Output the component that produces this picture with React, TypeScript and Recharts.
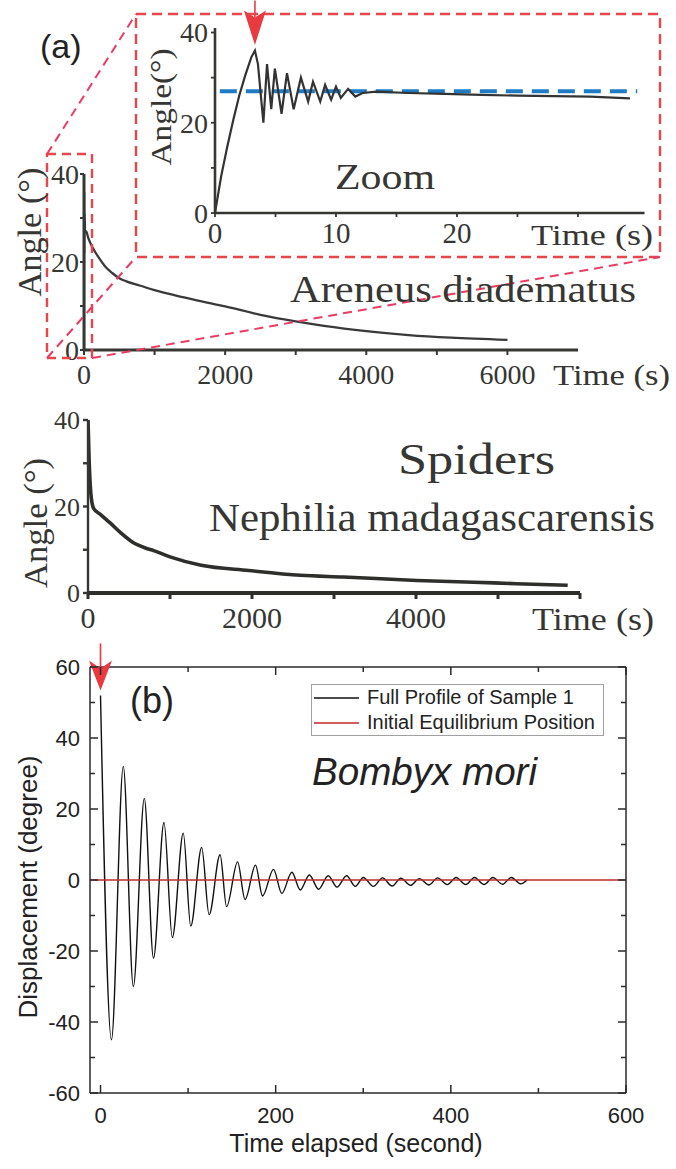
import React from 'react';
import { LineChart, Line, XAxis, YAxis, ReferenceLine, ReferenceDot, Legend } from 'recharts';

const PAGE_W = 676;
const PAGE_H = 1169;

// ---------- (a) Areneus diadematus: full relaxation ----------
const areneusTime = [0, 3, 5, 8, 15, 30, 60, 100, 150, 200, 300, 400, 500, 600, 800, 1000, 1400, 1800, 2000, 2500, 3000, 3400, 4000, 4600, 5200, 6000];
const areneusAngle = [0, 36, 22, 31, 27, 27, 25.5, 24, 22.5, 21.2, 19, 17.5, 16.3, 15.6, 14.6, 13.6, 12, 10.6, 9.9, 8, 6.5, 5.5, 4.3, 3.4, 2.8, 2.3];
const areneusXTicks = [0, 1000, 2000, 3000, 4000, 5000, 6000];
const areneusXLabels = [0, 2000, 4000, 6000];
const angleTicks = [0, 10, 20, 30, 40];
const angleLabels = [0, 20, 40];

// ---------- (a) zoom on the first seconds ----------
const zoomTime = [0, 0.5, 1, 1.5, 2, 2.5, 3, 3.3, 3.55, 4.0, 4.3, 4.65, 4.95, 5.5, 5.95, 6.5, 7.1, 7.7, 8.1, 8.7, 9.1, 9.6, 10.0, 10.4, 11.0, 11.6, 12.2, 13.3, 16, 19, 22, 25, 28, 31, 34.3];
const zoomAngle = [0, 8, 14.5, 20.5, 26, 30.5, 34.5, 36, 33, 20, 33, 23, 32, 22, 31, 23, 30, 24.7, 29.1, 24.7, 28.4, 25.1, 28, 25.5, 27.5, 25.8, 26.6, 26.9, 26.6, 26.4, 26.2, 26, 25.9, 25.8, 25.4];
const zoomXTicks = [0, 5, 10, 15, 20, 25, 30];
const zoomXLabels = [0, 10, 20];
const zoomEquilibrium = 27;
const zoomEquilibriumSpan = [0.4, 34.9];
const zoomPeak = { t: 3.3, angle: 36 };

// ---------- (a) Nephilia madagascarensis ----------
const nephiliaTime = [0, 15, 40, 70, 150, 270, 400, 540, 700, 800, 1010, 1380, 1960, 2590, 3115, 4010, 4700, 5220, 5850];
const nephiliaAngle = [40, 30, 22, 19.5, 18.2, 16.2, 13.9, 11.8, 10.4, 9.8, 8.3, 6.4, 5.2, 4.1, 3.7, 2.9, 2.5, 2.15, 1.8];
const nephiliaXTicks = [0, 1000, 2000, 3000, 4000, 5000, 6000];
const nephiliaXLabels = [0, 2000, 4000];

// ---------- (b) Bombyx mori ----------
const bombyxTime = [0, 12.5, 26, 37.5, 50, 60.5, 72.5, 82, 94.5, 103, 115.5, 124, 136.5, 144, 156.5, 165, 177, 185, 197.5, 207, 218.5, 228, 238.5, 249, 260, 270, 281, 291, 300, 311.5, 322, 333, 343, 354, 364, 375, 385, 396, 406, 417, 427, 438, 448, 459, 469, 480, 487];
const bombyxDisp = [52, -45, 32, -30, 23, -22, 16.2, -16.2, 13.2, -13, 9.2, -9.8, 7.1, -7.5, 5.1, -5.5, 4.2, -4.5, 3, -3.8, 2.2, -2.8, 1.4, -2.6, 1.2, -2, 1.2, -1.8, 0.7, -1.8, 0.6, -1.7, 0.5, -1.5, 0.4, -1.4, 0.6, -1.3, 0.7, -1.3, 0.7, -1.3, 0.7, -1.2, 0.7, -1.1, 0];
const equilibriumTime = [-12, 600];
const equilibriumDisp = [0, 0];
const bombyxXTicks = [0, 100, 200, 300, 400, 500, 600];
const bombyxXLabels = [0, 200, 400, 600];
const bombyxYTicks = [-60, -50, -40, -30, -20, -10, 0, 10, 20, 30, 40, 50, 60];
const bombyxYLabels = [-60, -40, -20, 0, 20, 40, 60];
const bombyxStart = { t: 0, disp: 52 };

const SERIF = '"Liberation Serif", "Times New Roman", serif';
const SANS = '"Liberation Sans", Arial, sans-serif';
const INK = '#363633';
const DASH_RED = '#e8464d';
const DASH_PINK = '#e83d62';
const ARROW_RED = '#e83a40';
const EQ_RED = '#c0282d';
const FRAME = '#2a2a2a';

// plotting rectangle of panel (b); its ticks point inward on all four sides
const BOMBYX_BOX = { left: 90, top: 667, right: 626, bottom: 1093 };
const BX_DOMAIN: [number, number] = [-12, 600];
const BY_DOMAIN: [number, number] = [-60, 60];

const zip = (xs: number[], ys: number[], yKey: string) => xs.map((x, i) => ({ t: x, [yKey]: ys[i] }));

const areneusData = zip(areneusTime, areneusAngle, 'angle');
const zoomData = zip(zoomTime, zoomAngle, 'angle');
const nephiliaData = zip(nephiliaTime, nephiliaAngle, 'angle');
const bombyxData = zip(bombyxTime, bombyxDisp, 'disp');
const equilibriumData = zip(equilibriumTime, equilibriumDisp, 'disp');

// margins that put the plotting rectangle at (x0,y0)-(x1,y1) on a page-sized chart
const marginFor = (x0: number, y0: number, x1: number, y1: number, yW: number, xH: number) => ({
  top: y0,
  left: x0 - yW,
  right: PAGE_W - x1,
  bottom: PAGE_H - y1 - xH,
});

const only = (list: number[]) => (v: number) => (list.includes(v) ? String(v) : '');

const Layer = ({ children }: { children: React.ReactNode }) => (
  <div style={{ position: 'absolute', left: 0, top: 0, width: PAGE_W, height: PAGE_H }}>{children}</div>
);

const makeArrow = (lineTop: number, backY: number, notchY: number, tipGap: number, halfW: number) =>
  (props: any) => {
    const { cx, cy } = props;
    return (
      <g>
        <line x1={cx} x2={cx} y1={cy - lineTop} y2={cy - notchY} stroke={ARROW_RED} strokeWidth={1.6} />
        <path
          d={`M${cx} ${cy - tipGap} L${cx - halfW} ${cy - backY} L${cx} ${cy - notchY} L${cx + halfW} ${cy - backY} Z`}
          fill={ARROW_RED}
        />
      </g>
    );
  };

// x tick of panel (b): label below, inward marks on the bottom and top edges
const FramedXTick = (props: any) => {
  const { x, y, payload } = props;
  const major = bombyxXLabels.includes(payload.value);
  const len = major ? 8 : 5;
  return (
    <g>
      <line x1={x} x2={x} y1={BOMBYX_BOX.bottom} y2={BOMBYX_BOX.bottom - len} stroke={FRAME} strokeWidth={1.5} />
      <line x1={x} x2={x} y1={BOMBYX_BOX.top} y2={BOMBYX_BOX.top + len} stroke={FRAME} strokeWidth={1.5} />
      {major && (
        <text x={x} y={y} dy="0.71em" textAnchor="middle" fontFamily={SANS} fontSize={22} fill="#222">
          {payload.value}
        </text>
      )}
    </g>
  );
};

// y tick of panel (b): label on the left, inward marks on the left and right edges
const FramedYTick = (props: any) => {
  const { x, y, payload } = props;
  const major = bombyxYLabels.includes(payload.value);
  const len = major ? 8 : 5;
  return (
    <g>
      <line x1={BOMBYX_BOX.left} x2={BOMBYX_BOX.left + len} y1={y} y2={y} stroke={FRAME} strokeWidth={1.5} />
      <line x1={BOMBYX_BOX.right} x2={BOMBYX_BOX.right - len} y1={y} y2={y} stroke={FRAME} strokeWidth={1.5} />
      {major && (
        <text x={x} y={y} dy="0.355em" textAnchor="end" fontFamily={SANS} fontSize={22} fill="#222">
          {payload.value}
        </text>
      )}
    </g>
  );
};

type TextProps = {
  x: number; y: number; len?: number; size: number; family?: string; anchor?: 'start' | 'middle' | 'end';
  vertical?: boolean; italic?: boolean; fill?: string; children: React.ReactNode;
};
const Caption = ({ x, y, len, size, family = SERIF, anchor = 'start', vertical, italic, fill = INK, children }: TextProps) => (
  <text
    x={x}
    y={y}
    fontFamily={family}
    fontSize={size}
    fontStyle={italic ? 'italic' : 'normal'}
    textAnchor={anchor}
    dominantBaseline={vertical ? 'central' : undefined}
    textLength={len}
    lengthAdjust={len ? 'spacingAndGlyphs' : undefined}
    fill={fill}
    transform={vertical ? `rotate(-90 ${x} ${y})` : undefined}
  >
    {children}
  </text>
);

const renderLegend = (props: any) => {
  const items = (props.payload || []) as any[];
  return (
    <div
      style={{
        width: 293, height: 52, boxSizing: 'border-box', border: '1px solid #a0a0a0', background: '#fff',
        fontFamily: SANS, fontSize: 20, color: '#222',
      }}
    >
      {items.map((p, i) => (
        <div key={i} style={{ display: 'flex', alignItems: 'center', height: 25 }}>
          <svg width={52} height={4} style={{ display: 'block' }}>
            <line x1={2} x2={47} y1={2} y2={2} stroke={p.color} strokeWidth={1.6} />
          </svg>
          <span style={{ marginLeft: 3, whiteSpace: 'nowrap', lineHeight: '25px' }}>{p.value}</span>
        </div>
      ))}
    </div>
  );
};

const serifTick = (size: number) => ({ fontFamily: SERIF, fontSize: size, fill: INK });
const frameLine = { stroke: FRAME, strokeWidth: 1.5 };

export default function App() {
  return (
    <div style={{ position: 'absolute', left: 0, top: 0, width: PAGE_W, height: PAGE_H, background: '#fff', overflow: 'hidden' }}>
      {/* Areneus diadematus, full time range */}
      <Layer>
        <LineChart width={PAGE_W} height={PAGE_H} data={areneusData} margin={marginFor(84, 174, 578, 350, 70, 50)}>
          <XAxis
            dataKey="t" type="number" domain={[0, 7000]} allowDataOverflow ticks={areneusXTicks} interval={0}
            tickFormatter={only(areneusXLabels)} height={50} tickSize={5} tickMargin={9}
            axisLine={{ stroke: INK, strokeWidth: 3 }} tickLine={{ stroke: INK, strokeWidth: 2 }} tick={serifTick(28)}
          />
          <YAxis
            type="number" domain={[0, 40]} allowDataOverflow ticks={angleTicks} interval={0}
            tickFormatter={only(angleLabels)} width={70} tickSize={4} tickMargin={1}
            axisLine={{ stroke: INK, strokeWidth: 3 }} tickLine={{ stroke: INK, strokeWidth: 2 }} tick={serifTick(28)}
          />
          <Line dataKey="angle" type="monotone" stroke="#3a3a3a" strokeWidth={2.3} dot={false} isAnimationActive={false} />
        </LineChart>
      </Layer>

      {/* zoom on the first seconds */}
      <Layer>
        <LineChart width={PAGE_W} height={PAGE_H} data={zoomData} margin={marginFor(215, 28, 644.5, 213, 60, 50)}>
          <XAxis
            dataKey="t" type="number" domain={[0, 35.5]} allowDataOverflow ticks={zoomXTicks} interval={0}
            tickFormatter={only(zoomXLabels)} height={50} tickSize={4} tickMargin={5}
            axisLine={{ stroke: INK, strokeWidth: 2.6 }} tickLine={{ stroke: INK, strokeWidth: 1.8 }} tick={serifTick(29)}
          />
          <YAxis
            type="number" domain={[0, 41]} allowDataOverflow ticks={angleTicks} interval={0}
            tickFormatter={only(angleLabels)} width={60} tickSize={4} tickMargin={3}
            axisLine={{ stroke: INK, strokeWidth: 2.6 }} tickLine={{ stroke: INK, strokeWidth: 1.8 }} tick={serifTick(28)}
          />
          <ReferenceLine
            segment={[{ x: zoomEquilibriumSpan[0], y: zoomEquilibrium }, { x: zoomEquilibriumSpan[1], y: zoomEquilibrium }]}
            stroke="#1f7bc4" strokeWidth={4} strokeDasharray="17 9"
          />
          <Line dataKey="angle" type="linear" stroke="#333" strokeWidth={2.2} dot={false} isAnimationActive={false} />
          <ReferenceDot x={zoomPeak.t} y={zoomPeak.angle} shape={makeArrow(50, 40, 33, 5.5, 11)} />
        </LineChart>
      </Layer>

      {/* Nephilia madagascarensis */}
      <Layer>
        <LineChart width={PAGE_W} height={PAGE_H} data={nephiliaData} margin={marginFor(88, 420, 580, 593, 60, 50)}>
          <XAxis
            dataKey="t" type="number" domain={[0, 6000]} allowDataOverflow ticks={nephiliaXTicks} interval={0}
            tickFormatter={only(nephiliaXLabels)} height={50} tickSize={6} tickMargin={8}
            axisLine={{ stroke: '#2e2e2b', strokeWidth: 4 }} tickLine={{ stroke: '#2e2e2b', strokeWidth: 3 }} tick={serifTick(30)}
          />
          <YAxis
            type="number" domain={[0, 40]} allowDataOverflow ticks={angleTicks} interval={0}
            tickFormatter={only(angleLabels)} width={60} tickSize={5} tickMargin={3}
            axisLine={{ stroke: INK, strokeWidth: 2.4 }} tickLine={{ stroke: INK, strokeWidth: 2.4 }} tick={serifTick(26)}
          />
          <Line dataKey="angle" type="monotone" stroke="#2e2e2b" strokeWidth={3.6} dot={false} isAnimationActive={false} />
        </LineChart>
      </Layer>

      {/* (b) Bombyx mori */}
      <Layer>
        <LineChart
          width={PAGE_W} height={PAGE_H}
          margin={marginFor(BOMBYX_BOX.left, BOMBYX_BOX.top, BOMBYX_BOX.right, BOMBYX_BOX.bottom, 60, 40)}
        >
          <XAxis
            dataKey="t" type="number" domain={BX_DOMAIN} allowDataOverflow ticks={bombyxXTicks} interval={0}
            height={40} tickLine={false} tickSize={0} tickMargin={14} axisLine={frameLine} tick={<FramedXTick />}
          />
          <YAxis
            type="number" domain={BY_DOMAIN} allowDataOverflow ticks={bombyxYTicks} interval={0}
            width={60} tickLine={false} tickSize={0} tickMargin={10} axisLine={frameLine} tick={<FramedYTick />}
          />
          {/* closing edges of the frame */}
          <ReferenceLine y={BY_DOMAIN[1]} stroke={FRAME} strokeWidth={1.5} />
          <ReferenceLine x={BX_DOMAIN[1]} stroke={FRAME} strokeWidth={1.5} />
          <Line data={bombyxData} dataKey="disp" name="Full Profile of Sample 1"
            type="monotone" stroke="#111" strokeWidth={1.4} dot={false} isAnimationActive={false} />
          <Line data={equilibriumData} dataKey="disp" name="Initial Equilibrium Position"
            type="linear" stroke={EQ_RED} strokeWidth={1.6} dot={false} isAnimationActive={false} />
          <ReferenceDot x={bombyxStart.t} y={bombyxStart.disp} shape={makeArrow(52, 35, 27, 5, 11.5)} />
          <Legend
            layout="vertical" align="center" verticalAlign="middle"
            wrapperStyle={{ left: 311, top: 684, width: 293, height: 52 }}
            content={renderLegend}
          />
        </LineChart>
      </Layer>

      {/* annotations: zoom frames, titles and axis names */}
      <svg width={PAGE_W} height={PAGE_H} style={{ position: 'absolute', left: 0, top: 0, pointerEvents: 'none' }}>
        <rect x={47} y={154} width={45} height={204} fill="none" stroke={DASH_RED} strokeWidth={2.4} strokeDasharray="9 6" />
        <rect x={136} y={14} width={524} height={243} fill="none" stroke={DASH_RED} strokeWidth={2.4} strokeDasharray="10 6" />
        <line x1={47} y1={154} x2={136} y2={14} stroke={DASH_PINK} strokeWidth={2} strokeDasharray="9 6" />
        <line x1={47} y1={358} x2={136} y2={257} stroke={DASH_PINK} strokeWidth={2} strokeDasharray="9 6" />
        <line x1={92} y1={358} x2={660} y2={257} stroke={DASH_PINK} strokeWidth={2} strokeDasharray="9 6" />

        <Caption x={40} y={58} size={34} family={SANS} fill="#222">(a)</Caption>
        <Caption x={160} y={107} size={30} len={117} vertical anchor="middle">Angle(°)</Caption>
        <Caption x={385} y={189} size={36} len={100} anchor="middle">Zoom</Caption>
        <Caption x={592} y={245} size={30} len={122} anchor="middle">Time (s)</Caption>

        <Caption x={30} y={232} size={33} len={129} vertical anchor="middle">Angle (°)</Caption>
        <Caption x={290} y={302} size={38} len={346}>Areneus diadematus</Caption>
        <Caption x={553} y={385} size={30} len={117}>Time (s)</Caption>

        <Caption x={398} y={474} size={44} len={157}>Spiders</Caption>
        <Caption x={209} y={531} size={40} len={446}>Nephilia madagascarensis</Caption>
        <Caption x={36} y={523} size={33} len={130} vertical anchor="middle">Angle (°)</Caption>
        <Caption x={532} y={630} size={31} len={122}>Time (s)</Caption>

        <Caption x={130} y={713} size={36} family={SANS} fill="#222">(b)</Caption>
        <Caption x={312} y={785} size={38} len={225} family={SANS} italic fill="#222">Bombyx mori</Caption>
        <Caption x={28} y={887} size={26} family={SANS} vertical anchor="middle" fill="#222">Displacement (degree)</Caption>
        <Caption x={356} y={1152} size={25} family={SANS} anchor="middle" fill="#222">Time elapsed (second)</Caption>
      </svg>
    </div>
  );
}
